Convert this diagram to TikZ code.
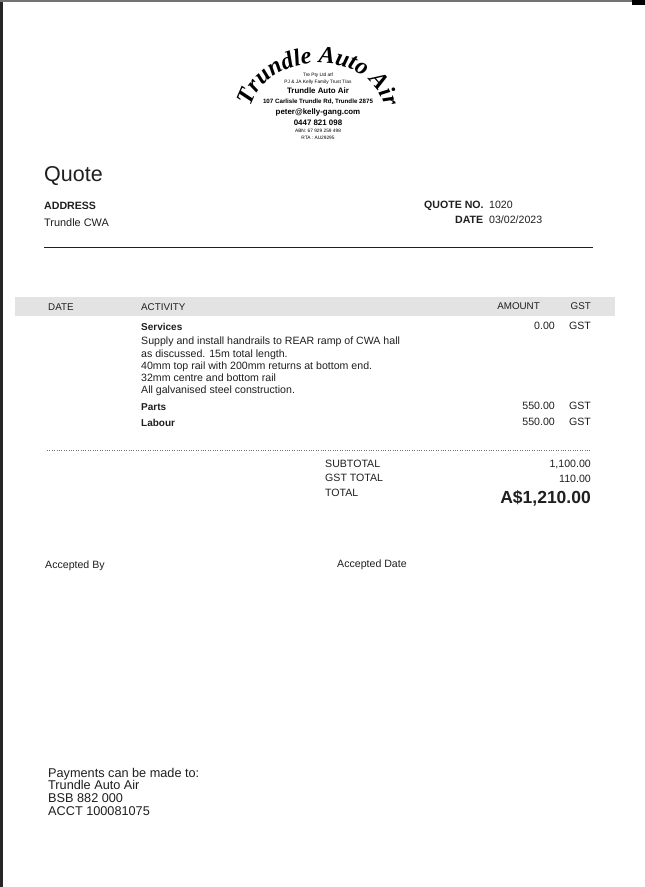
\documentclass[tikz,border=0pt]{standalone}
\usepackage{fontspec}
\setmainfont{Liberation Sans}
\newfontfamily\logofam{Liberation Serif}
\usetikzlibrary{decorations.text}
\definecolor{ink}{gray}{0.12}
\definecolor{band}{gray}{0.89}
\tikzset{
  x=1pt,y=-1pt,
  lab/.style={inner sep=0pt,text=ink,font=\fontsize{10.6}{12}\selectfont},
  labl/.style={lab,anchor=base west},
  labr/.style={lab,anchor=base east},
  labb/.style={labl,font=\fontsize{10.6}{12}\selectfont\bfseries},
  labh/.style={font=\fontsize{9.8}{12}\selectfont},
  labp/.style={labl,font=\fontsize{12.7}{14}\selectfont},
  logo/.style={inner sep=0pt,anchor=base,text=black},
  logom/.style={logo,font=\fontsize{7.9}{9}\selectfont\bfseries},
  logos/.style={logo,font=\fontsize{4.8}{5}\selectfont},
  rulel/.style={draw=ink,line width=0.6pt},
}
\newcommand{\logotext}{\fontsize{24}{24}\logofam\bfseries\itshape}
\begin{document}
\begin{tikzpicture}
\useasboundingbox (0,0) rectangle (645,887);
\fill[white] (0,0) rectangle (645,887);
% scan edges
\fill[black!85] (0,0) rectangle (3,887);
\fill[black!55] (0,0) rectangle (645,1.5);
\fill[black] (632,0) rectangle (645,5);
% logo arc text
\path[decorate,decoration={text along path,text align=center,text color=black,
  text={|\logotext|Trundle Auto Air}}]
  (250,112) .. controls (262,47) and (376,47) .. (386,112);
\node[logos] (l1) at (318,76) {Tre Pty Ltd atf};
\node[logos] (l2) at (318,83) {PJ \& JA Kelly Family Trust T/as};
\node[logom] (l3) at (318,93.5) {Trundle Auto Air};
\node[logo,font=\fontsize{6.2}{7}\selectfont\bfseries] (l4) at (318,103) {107 Carlisle Trundle Rd, Trundle 2875};
\node[logom] (l5) at (318,114) {peter@kelly-gang.com};
\node[logom] (l6) at (318,125) {0447 821 098};
\node[logos] (l7) at (318,132.5) {ABN: 67 929 259 498};
\node[logos] (l8) at (318,139) {RTA : AU29295};
% heading
\node[labl,font=\fontsize{21.5}{24}\selectfont] (quote) at (44,181) {Quote};
\node[labb] (addr) at (44,209) {ADDRESS};
\node[labl,font=\fontsize{10.9}{12}\selectfont] (cust) at (44,226) {Trundle CWA};
\node[labb] (qno) at (424,208) {QUOTE NO.};
\node[labl] (qnov) at (489,208) {1020};
\node[labb] (dt) at (455,223) {DATE};
\node[labl] (dtv) at (489,223) {03/02/2023};
\draw[rulel] (44,247.5) -- (593,247.5);
% table band
\fill[band] (15,297) rectangle (615,316);
\node[labl,labh] (h1) at (48,310) {DATE};
\node[labl,labh] (h2) at (141,310) {ACTIVITY};
\node[labr,labh] (h3) at (540,309) {AMOUNT};
\node[labr,labh] (h4) at (591,309) {GST};
% services
\node[labb,font=\fontsize{10}{12}\selectfont\bfseries] (s0) at (141,330) {Services};
\node[labl] (s1) at (141,344) {Supply and install handrails to REAR ramp of CWA hall};
\node[labl] (s2) at (141,357) {as discussed.  15m total length.};
\node[labl] (s3) at (141,369) {40mm top rail with 200mm returns at bottom end.};
\node[labl] (s4) at (141,381) {32mm centre and bottom rail};
\node[labl] (s5) at (141,393) {All galvanised steel construction.};
\node[labr] (a0) at (555,329) {0.00};
\node[labr] (g0) at (591,329) {GST};
\node[labb,font=\fontsize{10}{12}\selectfont\bfseries] (p) at (141,410) {Parts};
\node[labr] (a1) at (555,409) {550.00};
\node[labr] (g1) at (591,409) {GST};
\node[labb,font=\fontsize{10}{12}\selectfont\bfseries] (lb) at (141,426) {Labour};
\node[labr] (a2) at (555,425) {550.00};
\node[labr] (g2) at (591,425) {GST};
\draw[black!55,line width=0.4pt,dotted] (47,450.5) -- (591,450.5);
% totals
\node[labl] (t1) at (325,467) {SUBTOTAL};
\node[labr] (v1) at (591,467) {1,100.00};
\node[labl] (t2) at (325,481) {GST TOTAL};
\node[labr] (v2) at (591,482) {110.00};
\node[labl] (t3) at (325,496) {TOTAL};
\node[labr,font=\fontsize{17.5}{18}\selectfont\bfseries] (v3) at (591,503) {A\$1,210.00};
% acceptance
\node[labl] (ab) at (45,568) {Accepted By};
\node[labl] (ad) at (337,567) {Accepted Date};
% payment
\node[labp] (pay1) at (48,777) {Payments can be made to:};
\node[labp] (pay2) at (48,789) {Trundle Auto Air};
\node[labp] (pay3) at (48,802) {BSB 882 000};
\node[labp] (pay4) at (48,815) {ACCT 100081075};
\end{tikzpicture}
\end{document}
